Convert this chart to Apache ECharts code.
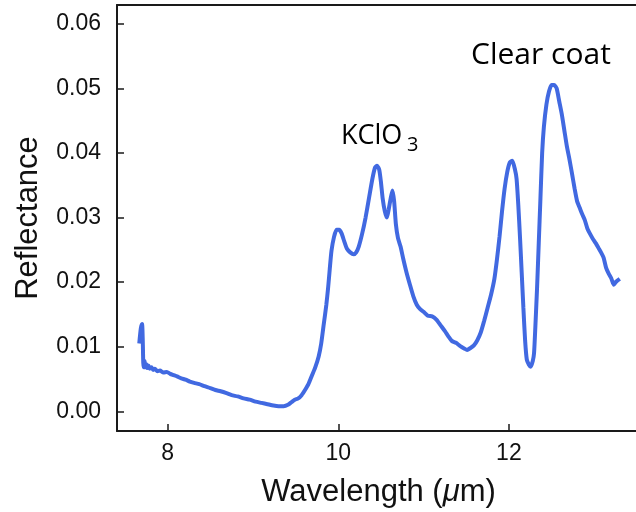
<!DOCTYPE html>
<html>
<head>
<meta charset="utf-8">
<script src="https://cdn.jsdelivr.net/npm/echarts@6/dist/echarts.min.js"></script>
<style>html,body{margin:0;padding:0;background:#fff}#c{width:636px;height:512px}</style>
</head>
<body>
<div id="c"></div>
<script>
// Wavelength (µm)
const wavelength = [
7.667,7.685,7.700,7.708,7.714,7.722,7.730,7.738,7.750,7.762,7.775,7.79,7.81,7.83,7.85,7.88,7.91,7.95,7.99,
8.03,8.07,8.11,8.16,8.21,8.26,8.31,8.37,8.43,8.50,8.56,8.62,8.69,8.75,8.82,8.89,8.96,
9.03,9.10,9.17,9.24,9.30,9.36,9.41,9.45,9.49,9.53,9.57,9.61,9.65,9.69,9.73,9.77,9.80,9.83,9.86,9.88,9.90,9.92,9.95,9.98,
10.01,10.04,10.07,10.10,10.14,10.18,10.21,10.24,10.28,10.32,10.36,10.40,10.43,10.455,10.48,10.50,10.52,10.545,10.57,10.59,10.615,10.635,10.655,10.675,10.70,10.73,10.76,10.80,10.84,10.88,10.92,10.96,
11.00,11.05,11.10,11.15,11.20,11.25,11.29,11.33,11.38,11.43,11.48,11.51,11.55,11.59,11.63,11.67,11.71,11.75,11.79,11.83,11.86,11.89,11.92,11.95,11.98,
12.01,12.04,12.07,12.09,12.11,12.13,12.15,12.17,12.19,12.21,12.235,12.255,12.28,12.295,12.31,12.33,12.35,12.37,12.39,12.41,12.44,12.47,12.50,12.53,12.56,12.59,12.62,12.65,12.68,12.71,12.74,12.77,12.80,12.83,12.86,12.89,12.92,12.95,12.98,
13.02,13.05,13.08,13.11,13.14,13.17,13.20,13.23,13.26,13.30
];
// Reflectance
const reflectance = [
0.0105,0.0128,0.0135,0.0110,0.0075,0.0068,0.0078,0.0068,0.0073,0.0067,0.0071,0.0066,0.0068,0.0064,0.0066,0.0062,0.0063,0.0060,0.0061,
0.0058,0.0056,0.0054,0.0051,0.0049,0.0046,0.0044,0.0042,0.0039,0.0036,0.0033,0.0031,0.0028,0.0025,0.0023,0.0020,0.0018,
0.0015,0.0013,0.0011,0.0009,0.0008,0.0008,0.0010,0.0014,0.0018,0.0020,0.0025,0.0033,0.0042,0.0055,0.0068,0.0085,0.0105,0.0135,0.0165,0.0190,0.0220,0.0248,0.0270,0.0281,
0.0281,0.0275,0.0263,0.0252,0.0246,0.0243,0.0246,0.0255,0.0275,0.0300,0.0330,0.0360,0.0377,0.0380,0.0374,0.0355,0.0330,0.0310,0.0300,0.0312,0.0330,0.0342,0.0325,0.0290,0.0268,0.0255,0.0237,0.0215,0.0196,0.0178,0.0165,0.0158,
0.0154,0.0148,0.0147,0.0142,0.0133,0.0124,0.0116,0.0109,0.0106,0.0101,0.0097,0.0095,0.0098,0.0102,0.0110,0.0122,0.0140,0.0160,0.0180,0.0205,0.0235,0.0270,0.0310,0.0345,0.0370,
0.0385,0.0388,0.0375,0.0360,0.0320,0.0270,0.0215,0.0160,0.0110,0.0080,0.0072,0.0069,0.0078,0.0090,0.0130,0.0190,0.0260,0.0330,0.0400,0.0440,0.0475,0.0495,0.0505,0.0505,0.0500,0.0480,0.0460,0.0435,0.0410,0.0390,0.0368,0.0345,0.0325,0.0315,0.0305,0.0296,0.0283,0.0275,0.0268,
0.0260,0.0253,0.0246,0.0238,0.0222,0.0213,0.0206,0.0196,0.0201,0.0205
];
const xTicks = [8, 10, 12];
const yTicks = [0.00, 0.01, 0.02, 0.03, 0.04, 0.05, 0.06];
const xName = 'Wavelength ({i|μ}m)';
const yName = 'Reflectance';
const annoKClO = 'KClO';
const annoSub = '3';
const annoClear = 'Clear coat';

const chart = echarts.init(document.getElementById('c'), null, {renderer: 'canvas'});
const data = wavelength.map((w, i) => [w, reflectance[i]]);
const axisColor = '#1a1a1a';
const xMin = 7.406, xMax = 13.537;
chart.setOption({
  animation: false,
  backgroundColor: '#fff',
  grid: {left: 117, right: -4, top: 5, bottom: 81, outerBoundsMode: 'none', containLabel: false, show: false},
  xAxis: [{
    type: 'value', min: xMin, max: xMax,
    name: xName, nameLocation: 'middle', nameGap: 46,
    nameTextStyle: {fontFamily: 'Liberation Sans', fontSize: 31, color: '#111', rich: {i: {fontFamily: 'Liberation Sans', fontSize: 31, fontStyle: 'italic', color: '#111'}}},
    axisLine: {show: true, onZero: false, lineStyle: {color: axisColor, width: 2}},
    axisTick: {show: true, inside: true, length: 7, lineStyle: {color: axisColor, width: 1.5}, customValues: xTicks},
    axisLabel: {show: true, margin: 11, fontFamily: 'Liberation Sans', fontSize: 23, color: '#111', customValues: xTicks, formatter: v => String(v)},
    splitLine: {show: false}
  }, {
    type: 'value', position: 'top', min: xMin, max: xMax,
    axisLine: {show: true, onZero: false, lineStyle: {color: axisColor, width: 2}},
    axisTick: {show: false}, axisLabel: {show: false}, splitLine: {show: false}
  }],
  yAxis: {
    type: 'value', min: -0.00305, max: 0.0629,
    name: yName, nameLocation: 'middle', nameGap: 73, nameRotate: 90,
    nameTextStyle: {fontFamily: 'Liberation Sans', fontSize: 31, color: '#111'},
    axisLine: {show: true, onZero: false, lineStyle: {color: axisColor, width: 2}},
    axisTick: {show: true, inside: true, length: 7, lineStyle: {color: axisColor, width: 1.5}, customValues: yTicks},
    axisLabel: {show: true, margin: 16, fontFamily: 'Liberation Sans', fontSize: 23, color: '#111', customValues: yTicks, formatter: v => Number(v).toFixed(2)},
    splitLine: {show: false}
  },
  series: [{
    type: 'line', xAxisIndex: 0, data: data, showSymbol: false, symbol: 'none', smooth: 0.2,
    lineStyle: {color: '#4169E1', width: 4}, clip: true
  }],
  graphic: [
    {type: 'text', x: 341, y: 136, style: {text: annoKClO, font: '27px "Open Sans"', fill: '#000', textAlign: 'left', verticalAlign: 'middle'}},
    {type: 'text', x: 407, y: 145, style: {text: annoSub, font: '20px "Open Sans"', fill: '#000', textAlign: 'left', verticalAlign: 'middle'}},
    {type: 'text', x: 471, y: 55, style: {text: annoClear, font: '30px "Open Sans"', fill: '#000', textAlign: 'left', verticalAlign: 'middle'}}
  ]
});
</script>
</body>
</html>
